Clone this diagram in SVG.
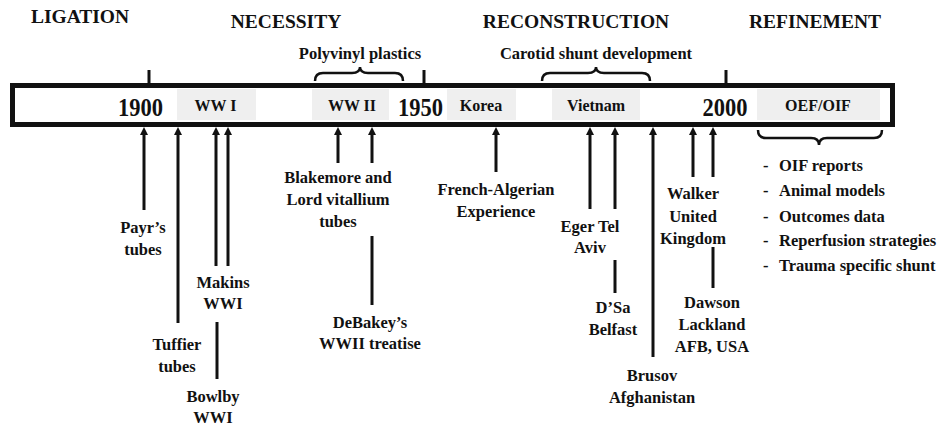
<svg xmlns="http://www.w3.org/2000/svg" width="941" height="429" viewBox="0 0 941 429">
<style>
text{font-family:"Liberation Serif","Times New Roman",serif;font-weight:bold;fill:#111;text-anchor:middle}
.hd{font-size:19.5px}
.yr{font-size:25px}
.bl{font-size:16px}
.lb{font-size:16.5px}
.ls{font-size:16.5px;text-anchor:start}
.era{fill:#efefef;stroke:none}
.ln{stroke:#111;stroke-width:3;fill:none}
.ar{stroke:#111;stroke-width:3;fill:none;marker-end:url(#ah)}
.br{stroke:#111;stroke-width:2.5;fill:none}
</style>
<defs>
<marker id="ah" viewBox="0 0 8 8" refX="1" refY="4" markerWidth="8" markerHeight="8" markerUnits="userSpaceOnUse" orient="auto">
<path d="M0,0 L8,4 L0,8 z" fill="#111"/>
</marker>
</defs>
<rect width="941" height="429" fill="#fff"/>

<g id="headers">
<text class="hd" x="80" y="23">LIGATION</text>
<text class="hd" x="286" y="28">NECESSITY</text>
<text class="hd" x="576" y="28">RECONSTRUCTION</text>
<text class="hd" x="815" y="28">REFINEMENT</text>
</g>

<g id="timeline">
<rect class="era" x="177" y="89" width="79" height="31"/>
<rect class="era" x="312" y="89" width="77" height="31"/>
<rect class="era" x="447" y="89" width="69" height="31"/>
<rect class="era" x="552" y="89" width="88" height="31"/>
<rect class="era" x="757" y="89" width="123" height="31"/>
<rect x="12.5" y="85.5" width="880" height="39" fill="none" stroke="#111" stroke-width="5"/>
<line class="ln" x1="149" y1="70" x2="149" y2="84"/>
<line class="ln" x1="424" y1="70" x2="424" y2="84"/>
<line class="ln" x1="726" y1="70" x2="726" y2="84"/>
<text class="yr" x="140.5" y="116" textLength="45" lengthAdjust="spacingAndGlyphs">1900</text>
<text class="yr" x="420.5" y="116" textLength="45" lengthAdjust="spacingAndGlyphs">1950</text>
<text class="yr" x="725" y="116" textLength="45" lengthAdjust="spacingAndGlyphs">2000</text>
<text class="bl" x="215.5" y="111">WW I</text>
<text class="bl" x="352" y="111">WW II</text>
<text class="bl" x="481" y="111">Korea</text>
<text class="bl" x="596" y="111">Vietnam</text>
<text class="bl" x="818" y="111">OEF/OIF</text>
</g>

<g id="brace-polyvinyl">
<path class="br" d="M315,81 Q315,73 323,73 L352,73 Q360,73 360,67 Q360,73 368,73 L395,73 Q403,73 403,81"/>
<text class="lb" x="360" y="59">Polyvinyl plastics</text>
</g>
<g id="brace-carotid">
<path class="br" d="M542,81 Q542,73 550,73 L588,73 Q596,73 596,67 Q596,73 604,73 L642,73 Q650,73 650,81"/>
<text class="lb" x="596" y="59">Carotid shunt development</text>
</g>
<g id="brace-oef">
<path class="br" d="M758,130 Q758,138 766,138 L811,138 Q819,138 819,145 Q819,138 827,138 L874,138 Q882,138 882,130"/>
</g>

<g id="connectors">
<line class="ar" x1="144" y1="210" x2="144" y2="134"/>
<line class="ar" x1="178" y1="323" x2="178" y2="134"/>
<line class="ar" x1="216" y1="266" x2="216" y2="134"/>
<line class="ar" x1="228" y1="266" x2="228" y2="134"/>
<line class="ln" x1="217" y1="322" x2="217" y2="379"/>
<line class="ar" x1="338" y1="163" x2="338" y2="134"/>
<line class="ar" x1="372" y1="163" x2="372" y2="134"/>
<line class="ln" x1="372" y1="236" x2="372" y2="305"/>
<line class="ar" x1="496" y1="172" x2="496" y2="134"/>
<line class="ar" x1="590" y1="209" x2="590" y2="134"/>
<line class="ar" x1="615" y1="209" x2="615" y2="134"/>
<line class="ln" x1="615" y1="260" x2="615" y2="293"/>
<line class="ar" x1="653" y1="357" x2="653" y2="134"/>
<line class="ar" x1="693" y1="177" x2="693" y2="134"/>
<line class="ar" x1="713" y1="177" x2="713" y2="134"/>
<line class="ln" x1="713" y1="247" x2="713" y2="288"/>
</g>

<g id="payr"><text class="lb" x="143" y="233">Payr’s</text><text class="lb" x="143" y="255">tubes</text></g>
<g id="tuffier"><text class="lb" x="177" y="350">Tuffier</text><text class="lb" x="177" y="372">tubes</text></g>
<g id="makins"><text class="lb" x="223" y="288">Makins</text><text class="lb" x="223" y="309">WWI</text></g>
<g id="bowlby"><text class="lb" x="213" y="402">Bowlby</text><text class="lb" x="213" y="423">WWI</text></g>
<g id="blakemore"><text class="lb" x="338" y="183">Blakemore and</text><text class="lb" x="338" y="205">Lord vitallium</text><text class="lb" x="338" y="227">tubes</text></g>
<g id="debakey"><text class="lb" x="370" y="328">DeBakey’s</text><text class="lb" x="370" y="349">WWII treatise</text></g>
<g id="french"><text class="lb" x="496" y="195">French-Algerian</text><text class="lb" x="496" y="217">Experience</text></g>
<g id="eger"><text class="lb" x="590" y="232">Eger Tel</text><text class="lb" x="590" y="253">Aviv</text></g>
<g id="dsa"><text class="lb" x="613" y="313">D’Sa</text><text class="lb" x="613" y="335">Belfast</text></g>
<g id="brusov"><text class="lb" x="652" y="381">Brusov</text><text class="lb" x="652" y="403">Afghanistan</text></g>
<g id="walker"><text class="lb" x="693" y="199">Walker</text><text class="lb" x="693" y="222">United</text><text class="lb" x="693" y="244">Kingdom</text></g>
<g id="dawson"><text class="lb" x="712" y="308">Dawson</text><text class="lb" x="712" y="330">Lackland</text><text class="lb" x="712" y="352">AFB, USA</text></g>

<g id="refinement-list">
<text class="ls" x="763" y="171">-<tspan x="779">OIF reports</tspan></text>
<text class="ls" x="763" y="196">-<tspan x="779">Animal models</tspan></text>
<text class="ls" x="763" y="222">-<tspan x="779">Outcomes data</tspan></text>
<text class="ls" x="763" y="246">-<tspan x="779">Reperfusion strategies</tspan></text>
<text class="ls" x="763" y="271">-<tspan x="779">Trauma specific shunt</tspan></text>
</g>
</svg>
